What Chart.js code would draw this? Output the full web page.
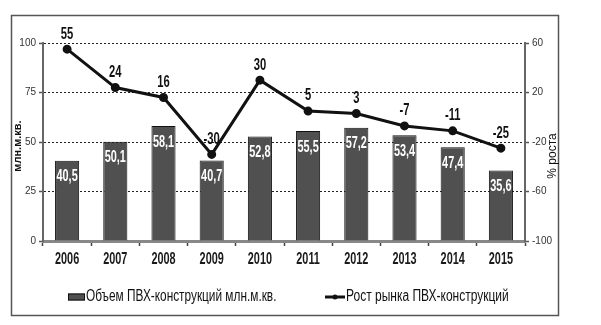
<!DOCTYPE html>
<html>
<head>
<meta charset="utf-8">
<script src="https://cdn.jsdelivr.net/npm/chart.js@4"></script>
<style>
  html, body { margin: 0; padding: 0; background: #fff; }
</style>
</head>
<body>
<canvas id="grafico" width="601" height="325"></canvas>
<script>
// Dados
const anos = ['2006', '2007', '2008', '2009', '2010', '2011', '2012', '2013', '2014', '2015'];
const volume = [40.5, 50.1, 58.1, 40.7, 52.8, 55.5, 57.2, 53.4, 47.4, 35.6];
const crescimento = [55, 24, 16, -30, 30, 5, 3, -7, -11, -25];
const ticksVolume = [0, 25, 50, 75, 100];
const ticksCrescimento = [-100, -60, -20, 20, 60];

const nomeVolume = 'Объем ПВХ-конструкций млн.м.кв.';
const nomeCrescimento = 'Рост рынка ПВХ-конструкций';
const tituloEsq = 'млн.м.кв.';
const tituloDir = '% роста';

const fonte = "'Liberation Sans Narrow', 'Arial Narrow', 'Liberation Sans', sans-serif";
const corBarra = '#505050';

// texto "estreito" (a fonte condensada não existe aqui)
const textoEstreito = (ctx, texto, x, y, sx) => {
  ctx.save();
  ctx.translate(x, y);
  ctx.scale(sx, 1);
  ctx.fillText(texto, 0, 0);
  ctx.restore();
};

// Rótulos de dados e do eixo X
const rotulos = {
  id: 'rotulos',
  afterDatasetsDraw(chart) {
    const ctx = chart.ctx;
    ctx.save();
    ctx.textAlign = 'center';
    ctx.textBaseline = 'middle';
    ctx.font = 'bold 17px ' + fonte;
    ctx.fillStyle = '#fff';
    chart.getDatasetMeta(1).data.forEach((bar, i) => {
      textoEstreito(ctx, String(volume[i]).replace('.', ','), bar.x, bar.y + 16, 0.64);
    });
    ctx.fillStyle = '#111';
    ctx.font = 'bold 16px ' + fonte;
    chart.getDatasetMeta(0).data.forEach((pt, i) => {
      textoEstreito(ctx, String(crescimento[i]), pt.x, pt.y - 15, 0.7);
    });
    const x = chart.scales.x;
    ctx.font = 'bold 16px ' + fonte;
    ctx.fillStyle = '#1a1a1a';
    anos.forEach((ano, i) => {
      textoEstreito(ctx, ano, x.getPixelForValue(i), x.top + 19, 0.68);
    });
    ctx.restore();
  }
};

// Moldura, títulos dos eixos e legenda
const extras = {
  id: 'extras',
  afterDraw(chart) {
    const ctx = chart.ctx;
    const area = chart.chartArea;
    ctx.save();
    ctx.strokeStyle = '#555';
    ctx.lineWidth = 1.5;
    ctx.strokeRect(11.5, 15.5, 547, 300);

    // títulos
    ctx.fillStyle = '#111';
    ctx.textAlign = 'center';
    ctx.textBaseline = 'middle';
    const meio = (area.top + area.bottom) / 2;
    ctx.save();
    ctx.translate(18, meio + 4);
    ctx.rotate(-Math.PI / 2);
    ctx.font = 'bold 11px ' + fonte;
    ctx.fillText(tituloEsq, 0, 0);
    ctx.restore();
    ctx.save();
    ctx.translate(553, meio + 14);
    ctx.rotate(-Math.PI / 2);
    ctx.font = '12px ' + fonte;
    ctx.fillText(tituloDir, 0, 0);
    ctx.restore();

    // legenda
    const y = 297;
    ctx.fillStyle = corBarra;
    ctx.fillRect(68, y - 3.5, 17, 7);
    ctx.strokeStyle = '#111';
    ctx.lineWidth = 1;
    ctx.strokeRect(68.5, y - 3, 16, 6);
    ctx.font = '16px ' + fonte;
    ctx.fillStyle = '#111';
    ctx.textAlign = 'left';
    textoEstreito(ctx, nomeVolume, 86, y, 0.74);

    ctx.strokeStyle = '#111';
    ctx.lineWidth = 3;
    ctx.beginPath();
    ctx.moveTo(325, y);
    ctx.lineTo(345, y);
    ctx.stroke();
    ctx.beginPath();
    ctx.arc(335, y, 2.5, 0, Math.PI * 2);
    ctx.fill();
    textoEstreito(ctx, nomeCrescimento, 346, y, 0.75);
    ctx.restore();
  }
};

const ctx = document.getElementById('grafico').getContext('2d');
new Chart(ctx, {
  data: {
    labels: anos,
    datasets: [
      {
        type: 'line',
        label: nomeCrescimento,
        data: crescimento,
        yAxisID: 'y1',
        borderColor: '#111',
        borderWidth: 3,
        pointRadius: 3,
        pointBackgroundColor: '#111',
        pointBorderColor: '#111',
        tension: 0,
        order: 1
      },
      {
        type: 'bar',
        label: nomeVolume,
        data: volume,
        yAxisID: 'y',
        backgroundColor: corBarra,
        borderColor: '#111',
        borderWidth: 1,
        barPercentage: 0.5,
        categoryPercentage: 1,
        order: 2
      }
    ]
  },
  options: {
    responsive: false,
    animation: false,
    layout: { padding: { top: 43, left: 0, right: 24, bottom: 48 } },
    plugins: {
      legend: { display: false },
      tooltip: { enabled: false }
    },
    scales: {
      x: {
        offset: true,
        grid: { offset: true, drawOnChartArea: false, tickLength: 5, tickColor: '#444', tickWidth: 1.5 },
        border: { color: '#888', width: 3 },
        ticks: { display: false },
        afterFit: (s) => { s.height = 36; }
      },
      y: {
        position: 'left',
        min: 0,
        max: 100,
        afterBuildTicks: (s) => { s.ticks = ticksVolume.map(v => ({ value: v })); },
        grid: {
          color: (c) => (c.tick && c.tick.value === 0 ? 'rgba(0,0,0,0)' : '#222'),
          lineWidth: 1,
          tickLength: 4,
          tickColor: '#555',
          tickWidth: 1.5
        },
        border: { color: '#666', width: 2, dash: [2, 2] },
        ticks: { color: '#333', padding: 3, font: { family: fonte, size: 10 } },
        afterFit: (s) => { s.width = 43; }
      },
      y1: {
        position: 'right',
        min: -100,
        max: 60,
        afterBuildTicks: (s) => { s.ticks = ticksCrescimento.map(v => ({ value: v })); },
        grid: { drawOnChartArea: false, tickLength: 4, tickColor: '#555', tickWidth: 1.5 },
        border: { color: '#666', width: 2 },
        ticks: { color: '#333', padding: 3, font: { family: fonte, size: 10 } },
        afterFit: (s) => { s.width = 52; }
      }
    }
  },
  plugins: [rotulos, extras]
});
</script>
</body>
</html>
